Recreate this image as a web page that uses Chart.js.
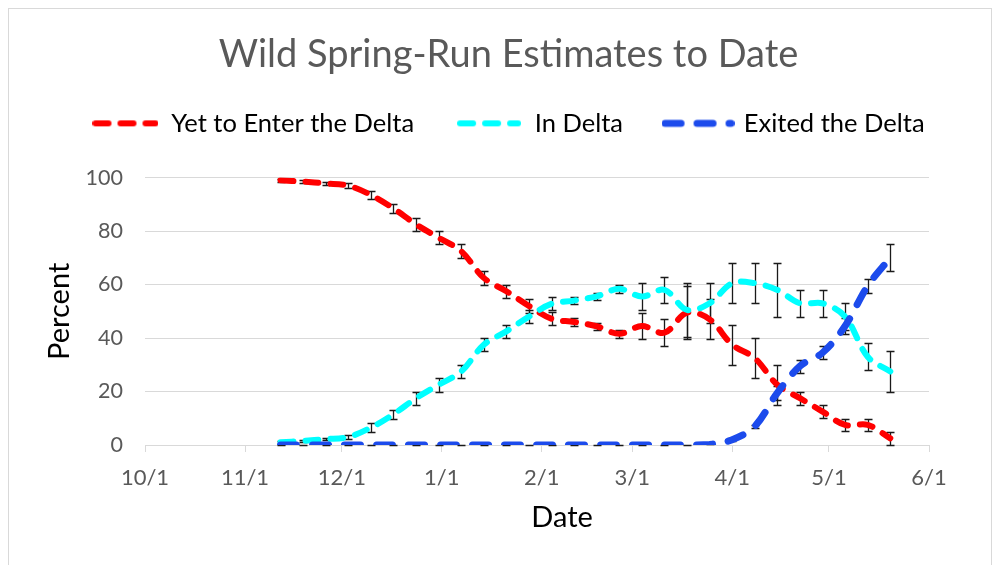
<!DOCTYPE html>
<html>
<head>
<meta charset="utf-8">
<script src="https://cdn.jsdelivr.net/npm/chart.js@4.4.0/dist/chart.umd.min.js"></script>
<style>
  html, body { margin: 0; padding: 0; background: #fff; }
  #wrap { position: relative; width: 997px; height: 565px; overflow: hidden; }
  #frame { position: absolute; left: 8px; top: 8px; width: 982px; height: 580px; border: 1px solid #d9d9d9; }
  #chart { position: absolute; left: 0; top: 0; }
</style>
</head>
<body>
<div id="wrap">
  <div id="frame"></div>
  <canvas id="chart" width="997" height="565"></canvas>
</div>
<script>
// --- DATI ---
const tickLabels = ['10/1', '11/1', '12/1', '1/1', '2/1', '3/1', '4/1', '5/1', '6/1'];
const pointDates = ['11/12', '11/19', '11/26', '12/3', '12/10', '12/17', '12/24', '12/31',
    '1/7', '1/14', '1/21', '1/28', '2/4', '2/11', '2/18', '2/25', '3/4', '3/11', '3/18', '3/25',
    '4/1', '4/8', '4/15', '4/22', '4/29', '5/6', '5/13', '5/20'];
const yetToEnter = [99, 98.5, 97.8, 97, 93.5, 88.5, 82.5, 77.5, 72.5, 62.5, 57.5, 52, 47.2, 46,
    44.4, 41.6, 44.5, 42, 49.5, 47, 37.5, 32.5, 22.5, 17.5, 12.5, 7.5, 7.5, 2.5];
const yetErr = [0.5, 0.5, 0.5, 0.8, 1.4, 1.6, 2.5, 2.5, 2.5, 2.5, 2.5, 2.5, 2.5, 1.6,
    1.4, 1.4, 5, 5, 10, 7.5, 7.5, 7.5, 7.5, 2.4, 2.4, 2.4, 2.4, 2.4];
const inDelta = [1, 1.5, 2.2, 3, 6.5, 11.5, 17.5, 22.5, 27.5, 37.5, 42.5, 48, 52.8, 54,
    55.6, 58.4, 55.5, 58, 50.5, 53, 60.5, 60.5, 58, 53, 53, 48, 33, 27.5];
const inErr = [0.5, 0.5, 0.5, 0.8, 1.6, 1.6, 2.5, 2.5, 2.5, 2.5, 2.5, 2.5, 2.5, 1.2,
    1.4, 1.4, 5, 5, 10, 7.5, 7.5, 7.5, 10, 5, 5, 5, 5, 7.5];
const exited = [0, 0, 0, 0, 0, 0, 0, 0, 0, 0, 0, 0, 0, 0,
    0, 0, 0, 0, 0, 0.2, 2, 7, 19.5, 29.5, 34.5, 44.5, 59.5, 70];
const exitErr = [0, 0, 0, 0, 0, 0, 0, 0, 0, 0, 0, 0, 0, 0,
    0, 0, 0, 0, 0, 0, 0.5, 0.5, 2.7, 2.4, 2.5, 3, 2.6, 5];

// giorni dal 1 ottobre
const monthStart = { 10: 0, 11: 31, 12: 61, 1: 92, 2: 123, 3: 151, 4: 182, 5: 212, 6: 243 };
function dayOf(s) {
    const [m, d] = s.split('/').map(Number);
    return monthStart[m] + d - 1;
}
function toPoints(values) {
    return pointDates.map((d, i) => ({ x: dayOf(d), y: values[i] }));
}
const errSets = [yetErr, inErr, exitErr];

const FONT = 'Lato';
const RED = '#ff0000';
const CYAN = '#00ffff';
const BLUE = '#1c4bec';

// icone legenda: linea tratteggiata
function legendLine(color, width, dash, len) {
    const c = document.createElement('canvas');
    c.width = len;
    c.height = 12;
    const g = c.getContext('2d');
    g.strokeStyle = color;
    g.lineWidth = width;
    g.lineCap = 'round';
    g.setLineDash(dash);
    g.beginPath();
    g.moveTo(width / 2, 6);
    g.lineTo(len - width / 2, 6);
    g.stroke();
    return c;
}
const legendIcons = [
    legendLine(RED, 6, [13, 12], 66),
    legendLine(CYAN, 6, [13, 12], 64),
    legendLine(BLUE, 7, [16, 16], 73)
];

// barre di errore (dietro le linee)
const errorBars = {
    id: 'errorBars',
    beforeDatasetsDraw(chart) {
        const { ctx, scales: { x, y } } = chart;
        ctx.save();
        ctx.strokeStyle = '#1a1a1a';
        ctx.lineWidth = 1.3;
        chart.data.datasets.forEach((ds, di) => {
            const errs = errSets[di];
            ds.data.forEach((p, i) => {
                const px = Math.round(x.getPixelForValue(p.x)) + 0.5;
                const top = Math.round(y.getPixelForValue(p.y + errs[i])) + 0.5;
                const bot = Math.round(y.getPixelForValue(p.y - errs[i])) + 0.5;
                ctx.beginPath();
                ctx.moveTo(px, top); ctx.lineTo(px, bot);
                ctx.moveTo(px - 4, top); ctx.lineTo(px + 4, top);
                ctx.moveTo(px - 4, bot); ctx.lineTo(px + 4, bot);
                ctx.stroke();
            });
        });
        ctx.restore();
    }
};

// titolo asse x
const xTitle = {
    id: 'xTitle',
    afterDraw(chart) {
        const { ctx, chartArea } = chart;
        ctx.save();
        ctx.fillStyle = '#000';
        ctx.font = '29px ' + FONT;
        ctx.textAlign = 'center';
        ctx.textBaseline = 'middle';
        ctx.fillText('Date', (chartArea.left + chartArea.right) / 2 + 25, 518);
        ctx.restore();
    }
};

function lineDataset(label, values, color, width, dash, order) {
    return {
        label,
        data: toPoints(values),
        borderColor: color,
        backgroundColor: color,
        borderWidth: width,
        borderDash: dash,
        borderCapStyle: 'round',
        borderJoinStyle: 'round',
        tension: 0.35,
        pointRadius: 0,
        pointHoverRadius: 0,
        fill: false,
        order
    };
}

const ctx = document.getElementById('chart').getContext('2d');
new Chart(ctx, {
    type: 'line',
    data: {
        datasets: [
            lineDataset('Yet to Enter the Delta', yetToEnter, RED, 6, [13, 12], 3),
            lineDataset('In Delta', inDelta, CYAN, 6, [13, 12], 2),
            lineDataset('Exited the Delta', exited, BLUE, 7, [16, 16], 1)
        ]
    },
    options: {
        responsive: false,
        maintainAspectRatio: false,
        animation: false,
        layout: { padding: { left: 20, right: 0, top: 0, bottom: 0 } },
        plugins: {
            title: {
                display: true,
                text: 'Wild Spring-Run Estimates to Date',
                color: '#595959',
                font: { family: FONT, size: 38, weight: 'normal' },
                padding: { top: 32, bottom: -9 }
            },
            legend: {
                display: true,
                position: 'top',
                labels: {
                    usePointStyle: true,
                    pointStyleWidth: 66,
                    padding: 42,
                    color: '#000',
                    font: { family: FONT, size: 25.5 },
                    sort: (a, b) => a.datasetIndex - b.datasetIndex,
                    generateLabels: chart => chart.data.datasets.map((ds, i) => ({
                        text: ds.label,
                        pointStyle: legendIcons[i],
                        datasetIndex: i,
                        fontColor: '#000',
                        fillStyle: 'transparent',
                        strokeStyle: 'transparent',
                        lineWidth: 0,
                        hidden: false
                    }))
                }
            },
            tooltip: { enabled: false }
        },
        scales: {
            x: {
                type: 'linear',
                position: 'bottom',
                min: 0,
                max: dayOf('6/1'),
                afterBuildTicks: s => { s.ticks = tickLabels.map(t => ({ value: dayOf(t) })); },
                ticks: {
                    callback: (v, i) => tickLabels[i],
                    color: '#595959',
                    font: { family: FONT, size: 22 },
                    padding: 13,
                    autoSkip: false,
                    maxRotation: 0
                },
                grid: { drawOnChartArea: false, drawTicks: true, tickLength: 7, color: '#d9d9d9', lineWidth: 1 },
                border: { color: '#d9d9d9', width: 1 },
                afterFit: s => { s.height = 120; }
            },
            x2: {
                type: 'linear',
                position: 'top',
                display: true,
                grid: { display: false },
                ticks: { display: false },
                border: { display: false },
                afterFit: s => { s.height = 31.5; }
            },
            y: {
                min: 0,
                max: 100,
                ticks: { stepSize: 20, color: '#595959', font: { family: FONT, size: 21.5 }, padding: 22 },
                grid: { color: '#d9d9d9', lineWidth: 1, drawTicks: false },
                border: { display: false },
                title: {
                    display: true,
                    text: 'Percent',
                    color: '#000',
                    font: { family: FONT, size: 29 },
                    padding: { top: 22, bottom: 0 }
                },
                afterFit: s => { s.width = 125; }
            },
            y2: {
                position: 'right',
                display: true,
                grid: { display: false },
                ticks: { display: false },
                border: { display: false },
                afterFit: s => { s.width = 68; }
            }
        }
    },
    plugins: [errorBars, xTitle]
});
</script>
</body>
</html>
